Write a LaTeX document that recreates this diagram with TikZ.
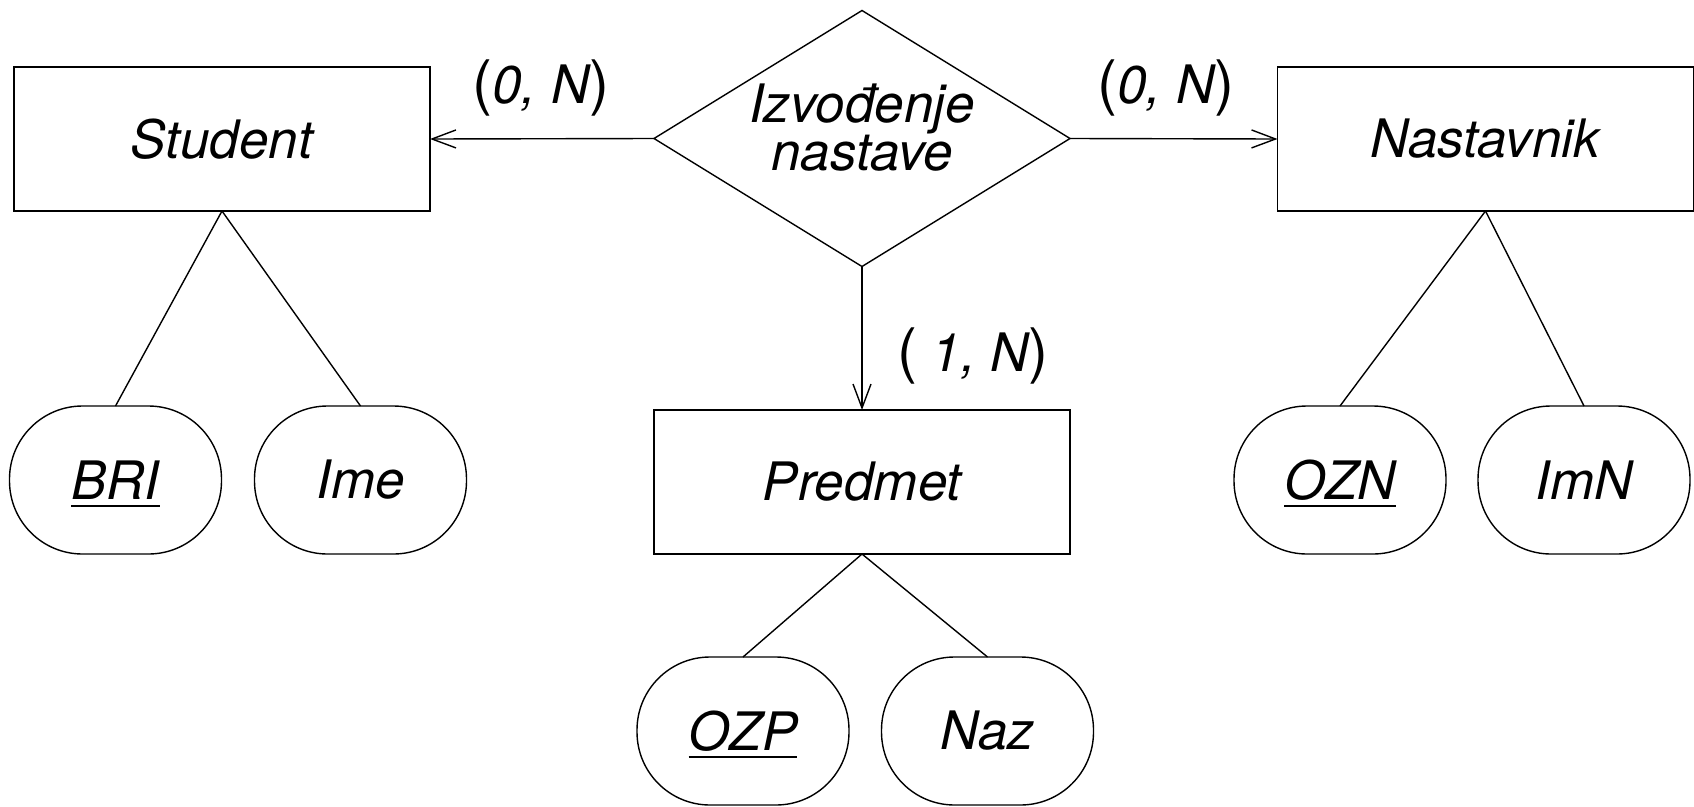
\documentclass[tikz,border=0pt]{standalone}
\usepackage{fontspec}
\setmainfont{TeX Gyre Heros}
\usetikzlibrary{shapes.geometric,arrows.meta}
\newcommand\keyattr[1]{\setbox0\hbox{#1}\rlap{\copy0}\smash{\rule[-8pt]{\wd0}{2.6pt}}}
\newcommand\cpar[1]{{\fontsize{60}{60}\selectfont\upshape #1}}
\begin{document}
\begin{tikzpicture}[x=1pt,y=-1pt,
  every node/.style={font=\fontsize{53}{44}\selectfont\itshape, inner sep=0pt, outer sep=0pt},
  entity/.style={draw, line width=1.8pt, minimum width=416pt, minimum height=144pt},
  rel/.style={draw, diamond, aspect=1.625, line width=1.4pt, minimum width=416pt, minimum height=256pt, align=center},
  attr/.style={draw, line width=1.4pt, rounded corners=73pt, minimum width=212pt, minimum height=148pt},
  link/.style={line width=1.4pt},
  card/.style={anchor=base},
  arr/.style={line width=1.4pt, -{Straight Barb[length=24pt,width=18pt]}}]
\useasboundingbox (0,0) rectangle (1694,806);
% entities
\node[entity] (student) at (222,139) {Student};
\node[entity] (nast) at (1485.5,139) {Nastavnik};
\node[entity] (pred) at (862,482) {Predmet};
% relationship
\node[rel] (izv) at (862,138.5) {Izvođenje\\nastave\\[-22pt]\mbox{}};
% attributes
\node[attr] (bri) at (115.5,480) {\keyattr{BRI}};
\node[attr] (ime) at (360.5,480) {Ime};
\node[attr] (ozn) at (1340,480) {\keyattr{OZN}};
\node[attr] (imn) at (1584,480) {ImN};
\node[attr] (ozp) at (743,731) {\keyattr{OZP}};
\node[attr] (naz) at (987.5,731) {Naz};
% connectors
\draw[arr] (izv.west) -- (student.east);
\draw[arr] (izv.east) -- (nast.west);
\draw[arr] (izv.south) -- (pred.north);
\draw[link] (student.south) -- (bri.north);
\draw[link] (student.south) -- (ime.north);
\draw[link] (nast.south) -- (ozn.north);
\draw[link] (nast.south) -- (imn.north);
\draw[link] (pred.south) -- (ozp.north);
\draw[link] (pred.south) -- (naz.north);
% cardinalities
\node[card] (c1) at (541,103) {\cpar{(}0, N\cpar{)}};
\node[card] (c2) at (1166,103) {\cpar{(}0, N\cpar{)}};
\node[card] (c3) at (973,371) {\cpar{(} 1, N\cpar{)}};
\end{tikzpicture}
\end{document}
